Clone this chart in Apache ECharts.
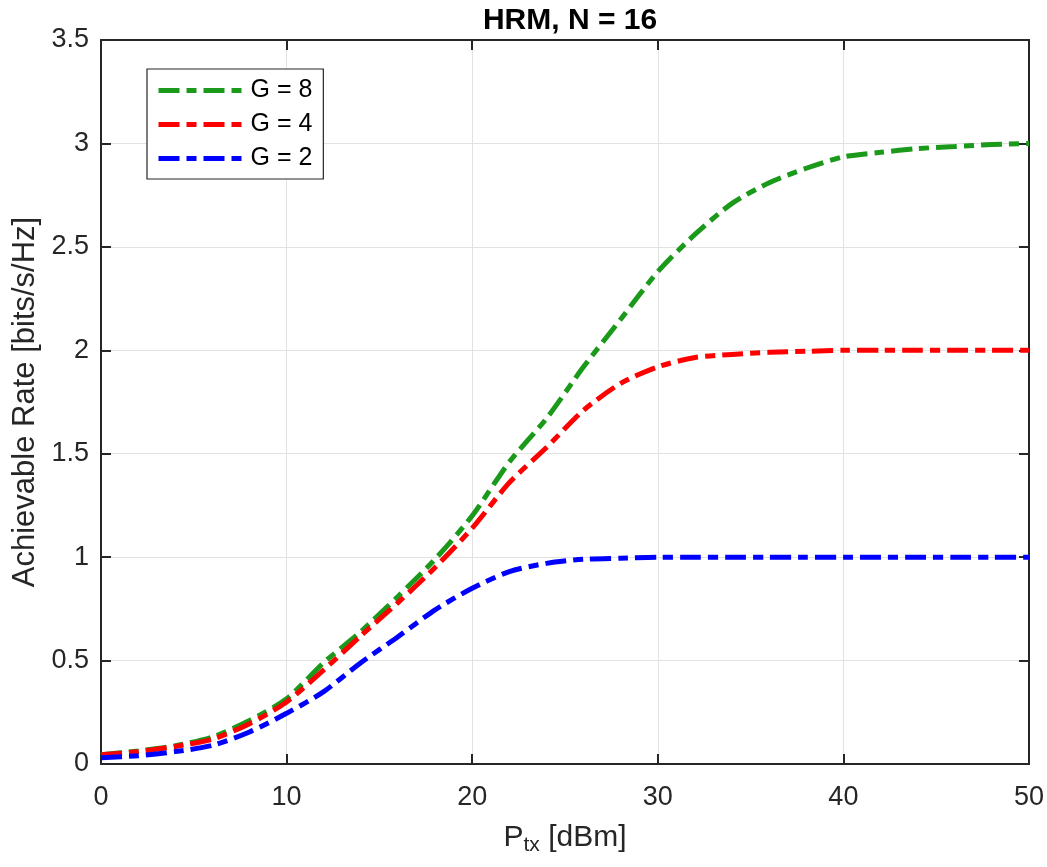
<!DOCTYPE html>
<html>
<head>
<meta charset="utf-8">
<script src="https://cdn.jsdelivr.net/npm/echarts@6/dist/echarts.min.js"></script>
<style>html,body{margin:0;padding:0;background:#fff;}#c{width:1047px;height:867px;}</style>
</head>
<body>
<div id="c"></div>
<script>
const ptx = [0,2,4,6,8,10,12,14,16,18,20,22,24,26,28,30,32,34,36,38,40,42,44,46,48,50];
const rateG8 = [0.045,0.063,0.088,0.13,0.21,0.315,0.49,0.64,0.81,0.99,1.2,1.46,1.67,1.92,2.15,2.38,2.56,2.71,2.81,2.88,2.935,2.957,2.975,2.985,2.995,3.0];
const rateG4 = [0.045,0.06,0.085,0.12,0.195,0.3,0.455,0.62,0.78,0.95,1.14,1.36,1.53,1.71,1.84,1.92,1.965,1.98,1.99,1.995,2.0,2.0,2.0,2.0,2.0,2.0];
const rateG2 = [0.03,0.04,0.06,0.09,0.155,0.245,0.35,0.49,0.615,0.745,0.85,0.93,0.97,0.99,0.995,1.0,1.0,1.0,1.0,1.0,1.0,1.0,1.0,1.0,1.0,1.0];
const seriesNames = ['G = 8','G = 4','G = 2'];
const titleText = 'HRM, N = 16';
const yName = 'Achievable Rate [bits/s/Hz]';

const FONT = 'Liberation Sans, Arial, Helvetica, sans-serif';
const AX = '#262626';
const dash = [21,7,10,7];

function pairs(xs, ys){ return xs.map((x,i)=>[x, ys[i]]); }
function mk(name, ys, color){
  return {
    name: name, type: 'line', data: pairs(ptx, ys), symbol: 'none',
    smooth: 0.25,
    xAxisIndex: 0, yAxisIndex: 0,
    lineStyle: {color: color, width: 5, type: dash, cap: 'butt'},
    itemStyle: {color: color}
  };
}

const chart = echarts.init(document.getElementById('c'));
chart.setOption({
  animation: false,
  backgroundColor: '#fff',
  title: {
    text: titleText, left: 565, textAlign: 'center', top: 1,
    textStyle: {fontFamily: FONT, fontWeight: 'bold', fontSize: 30, color: '#000'}
  },
  legend: {
    orient: 'vertical', left: 147, top: 69,
    data: seriesNames,
    itemWidth: 85, itemHeight: 14, itemGap: 9,
    padding: [9, 11, 8, 9],
    backgroundColor: '#fff', borderColor: AX, borderWidth: 1.2, borderRadius: 0,
    itemStyle: {opacity: 0},
    lineStyle: {width: 5, type: dash, cap: 'butt'},
    textStyle: {fontFamily: FONT, fontSize: 25, color: '#000', lineHeight: 24, padding: [0,0,0,2]}
  },
  grid: {left: 101, right: 18, top: 40, bottom: 103, containLabel: false},
  xAxis: [{
    type: 'value', min: 0, max: 50, interval: 10, position: 'bottom',
    name: '{a|P}{b|tx}{a| [dBm]}', nameLocation: 'middle', nameGap: 55,
    nameTextStyle: {rich: {
      a: {fontFamily: FONT, fontSize: 30, color: AX},
      b: {fontFamily: FONT, fontSize: 21, color: AX, verticalAlign: 'bottom', padding: [16,0,0,0]}
    }},
    axisLine: {show: true, onZero: false, lineStyle: {color: AX, width: 2}},
    axisTick: {show: true, inside: true, length: 10, lineStyle: {color: AX, width: 2}},
    axisLabel: {fontFamily: FONT, fontSize: 27, color: AX, margin: 20},
    splitLine: {show: true, lineStyle: {color: '#e2e2e2', width: 1}}
  }, {
    type: 'value', min: 0, max: 50, interval: 10, position: 'top',
    axisLine: {show: true, onZero: false, lineStyle: {color: AX, width: 2}},
    axisTick: {show: true, inside: true, length: 10, lineStyle: {color: AX, width: 2}},
    axisLabel: {show: false}, splitLine: {show: false}
  }],
  yAxis: [{
    type: 'value', min: 0, max: 3.5, interval: 0.5, position: 'left',
    name: yName, nameLocation: 'middle', nameGap: 59,
    nameTextStyle: {fontFamily: FONT, fontSize: 31, color: AX},
    axisLine: {show: true, onZero: false, lineStyle: {color: AX, width: 2}},
    axisTick: {show: true, inside: true, length: 10, lineStyle: {color: AX, width: 2}},
    axisLabel: {fontFamily: FONT, fontSize: 27, color: AX, margin: 12},
    splitLine: {show: true, lineStyle: {color: '#e2e2e2', width: 1}}
  }, {
    type: 'value', min: 0, max: 3.5, interval: 0.5, position: 'right',
    axisLine: {show: true, onZero: false, lineStyle: {color: AX, width: 2}},
    axisTick: {show: true, inside: true, length: 10, lineStyle: {color: AX, width: 2}},
    axisLabel: {show: false}, splitLine: {show: false}
  }],
  series: [
    mk(seriesNames[0], rateG8, '#1a991a'),
    mk(seriesNames[1], rateG4, '#ff0000'),
    mk(seriesNames[2], rateG2, '#0000ff')
  ]
});
</script>
</body>
</html>
